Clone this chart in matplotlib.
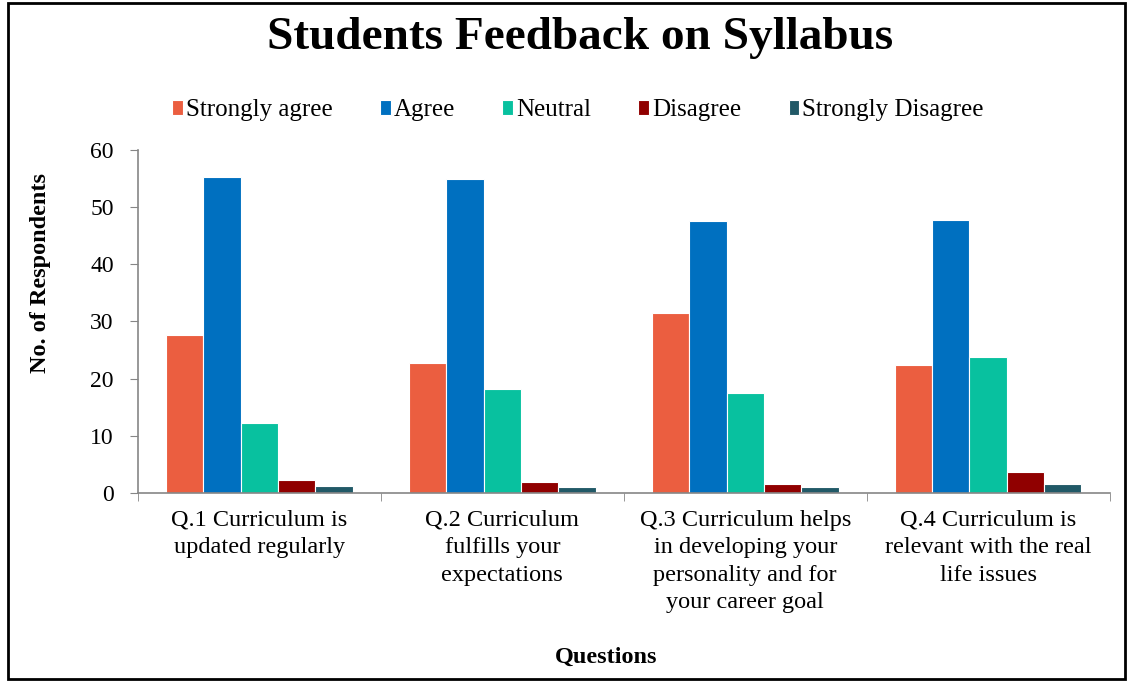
import numpy as np
import matplotlib.pyplot as plt
from matplotlib.patches import Rectangle

plt.rcParams['font.family'] = ['Liberation Serif', 'DejaVu Serif']

questions = ['Q.1 Curriculum is\nupdated regularly',
             'Q.2 Curriculum\nfulfills your\nexpectations',
             'Q.3 Curriculum helps\nin developing your\npersonality and for\nyour career goal',
             'Q.4 Curriculum is\nrelevant with the real\nlife issues']
series = ['Strongly agree', 'Agree', 'Neutral', 'Disagree', 'Strongly Disagree']
strongly_agree = [27.6, 22.8, 31.5, 22.4]
agree = [55.2, 54.9, 47.5, 47.8]
neutral = [12.3, 18.2, 17.5, 23.7]
disagree = [2.3, 2.0, 1.6, 3.6]
strongly_disagree = [1.3, 1.0, 1.0, 1.6]
colors = ['#EB5E40', '#0070C0', '#08C19F', '#900000', '#215967']

values = [strongly_agree, agree, neutral, disagree, strongly_disagree]

fig = plt.figure(figsize=(11.31, 6.81), dpi=100)
ax = fig.add_axes([0.122, 0.276, 0.859, 0.504])

x = np.arange(len(questions))
w = 1 / 6.5
for i, (name, vals) in enumerate(zip(series, values)):
    ax.bar(x + (i - 2) * w, vals, width=w, color=colors[i], edgecolor='white',
           linewidth=0.8, label=name)

ax.set_xlim(-0.5, len(questions) - 0.5)
ax.set_ylim(0, 60)
ax.set_yticks(range(0, 61, 10))
ax.tick_params(axis='y', labelsize=17, length=6, color='#868686', pad=11.5)
ax.set_xticks(x)
ax.set_xticklabels(questions, fontsize=17.5, linespacing=1.4)
ax.tick_params(axis='x', length=0, pad=12)
ax.set_xticks(np.arange(-0.5, len(questions)), minor=True)
ax.tick_params(axis='x', which='minor', length=6, color='#868686')
for s in ['top', 'right']:
    ax.spines[s].set_visible(False)
for s in ['left', 'bottom']:
    ax.spines[s].set_color('#868686')
    ax.spines[s].set_linewidth(1.2)

# axis titles and chart title
fig.text(0.036, 0.599, 'No. of Respondents', fontsize=17.5, fontweight='bold',
         rotation=90, ha='center', va='center')
fig.text(0.536, 0.026, 'Questions', fontsize=17.5, fontweight='bold', ha='center')
fig.text(0.513, 0.944, 'Students Feedback on Syllabus', fontsize=34,
         fontweight='bold', ha='center', va='center')

leg = ax.legend(loc='center', ncol=5, frameon=False, fontsize=18,
                handlelength=0.42, handleheight=0.5, handletextpad=0.12,
                columnspacing=1.9)
leg.set_bbox_to_anchor((0.511, 0.838), transform=fig.transFigure)

fig.patches.append(Rectangle((0.007, 0.003), 0.988, 0.992, transform=fig.transFigure,
                             fill=False, edgecolor='black', linewidth=2))

fig.savefig('out.png', dpi=100)
